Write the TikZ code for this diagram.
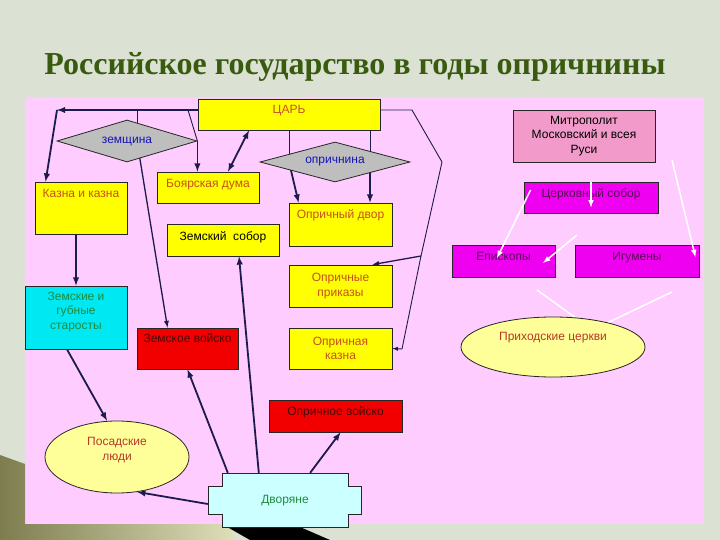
\documentclass[tikz,border=0pt]{standalone}
\usepackage{fontspec}
\setmainfont{Liberation Sans}
\newfontfamily\titlefont{Liberation Serif}
\usetikzlibrary{shapes,arrows,positioning,calc}

\definecolor{slidebg}{HTML}{DBE2D3}
\definecolor{panelpink}{HTML}{FFCCFF}
\definecolor{boxyellow}{HTML}{FFFF00}
\definecolor{boxred}{HTML}{F20000}
\definecolor{boxmag}{HTML}{F000F0}
\definecolor{metropink}{HTML}{F29AC9}
\definecolor{boxcyan}{HTML}{00E8F2}
\definecolor{paleblue}{HTML}{CCFFFF}
\definecolor{paleyellow}{HTML}{FFFF99}
\definecolor{rhombgrey}{HTML}{BEBEBE}
\definecolor{linenavy}{HTML}{1C1C4C}
\definecolor{txtorange}{HTML}{C8501A}
\definecolor{txtred}{HTML}{B83828}
\definecolor{txtpurple}{HTML}{5A0A5A}
\definecolor{txtgreen}{HTML}{1E8C3C}
\definecolor{txtblue}{HTML}{1414B4}
\definecolor{txtdark}{HTML}{4A0808}
\definecolor{titlegreen}{HTML}{3A5A10}

\newcommand{\boxfont}{\fontsize{12}{14.5}\selectfont}

\pgfdeclarelayer{back}
\pgfdeclarelayer{lines}
\pgfsetlayers{back,lines,main}

\tikzset{
  box/.style={draw=black!85, line width=0.8pt, inner sep=0pt, align=center, font=\boxfont},
  ybox/.style={box, fill=boxyellow, text=txtorange},
  rbox/.style={box, fill=boxred, text=txtdark},
  mbox/.style={box, fill=boxmag, text=txtpurple},
  rhomb/.style={box, diamond, aspect=3.4, fill=rhombgrey, text=txtblue},
  oval/.style={box, ellipse, fill=paleyellow},
  lbl/.style={inner sep=0pt, font=\boxfont, text height=9pt, text depth=2.5pt},
  lbltwo/.style={inner sep=0pt, font=\boxfont, align=center},
  conn/.style={draw=linenavy, line width=1.8pt},
  midconn/.style={draw=linenavy, line width=1.3pt},
  thinconn/.style={draw=linenavy, line width=0.9pt},
  wline/.style={draw=white, line width=1.5pt}
}

\begin{document}
\begin{tikzpicture}[x=1pt, y=-1pt, >=latex]
    \useasboundingbox (0,0) rectangle (720,540);

    % slide background
    \begin{pgfonlayer}{back}
        \fill[slidebg] (0,0) rectangle (720,540);
        \fill[panelpink] (25,97) rectangle (704,524);
        \shade[left color=black!70!olive!60, right color=black!25!olive!20]
            (0,455) -- (25,464) -- (25,524) -- (228,524) -- (236,540) -- (0,540) -- cycle;
        \fill[black] (222,524) -- (300,527) -- (330,540) -- (250,540) -- cycle;
    \end{pgfonlayer}

    % title
    \node[font=\titlefont\bfseries\fontsize{32}{38}\selectfont, text=titlegreen] (title) at (355,67)
        {Российское государство в годы опричнины};

    % top
    \node[ybox, minimum width=182pt, minimum height=31pt] (tsar) at (289,114.5) {};
    \node[lbl, text=txtorange, below=5.5pt of tsar.north] (tsart) {ЦАРЬ};
    \node[box, fill=metropink, text=black, minimum width=142pt, minimum height=52pt] (metro) at (584,136)
        {Митрополит\\Московский и всея\\Руси};
    \node[rhomb, minimum width=140pt, minimum height=42pt] (zemsh) at (127,141) {земщина};
    \node[rhomb, minimum width=150pt, minimum height=40pt] (opr) at (335,162) {опричнина};

    % zemshchina side
    \node[ybox, minimum width=92pt, minimum height=52pt] (kazna) at (81,208) {};
    \node[lbl, text=txtorange, below=6.5pt of kazna.north] (kaznat) {Казна и казна};
    \node[ybox, minimum width=102pt, minimum height=31pt] (boyar) at (208,187.5) {};
    \node[lbl, text=txtorange, below=6.5pt of boyar.north] (boyart) {Боярская дума};
    \node[ybox, minimum width=112pt, minimum height=32pt] (zsobor) at (223,240) {};
    \node[lbl, text=black, below=7.5pt of zsobor.north] (zsobort) {Земский~ собор};
    \node[box, fill=boxcyan, minimum width=102pt, minimum height=63pt] (starost) at (76,317.5) {};
    \node[lbltwo, text=txtgreen] (starostt) at ([yshift=5.5pt]starost.center) {Земские и\\губные\\старосты};
    \node[rbox, minimum width=101pt, minimum height=41pt] (zvoisko) at (187.5,348.5) {};
    \node[lbl, text=txtdark, below=5.5pt of zvoisko.north] (zvoiskot) {Земское войско};
    \node[oval, minimum width=144pt, minimum height=72pt] (posad) at (117,457) {};
    \node[lbltwo, text=txtred] (posadt) at ([yshift=7pt]posad.center) {Посадские\\люди};

    % oprichnina side
    \node[ybox, minimum width=103pt, minimum height=43pt] (odvor) at (340.5,224.5) {};
    \node[lbl, text=txtorange, below=6.5pt of odvor.north] (odvort) {Опричный двор};
    \node[ybox, minimum width=103pt, minimum height=42pt] (oprik) at (340.5,286) {Опричные\\приказы};
    \node[ybox, minimum width=103pt, minimum height=41pt] (okazna) at (340.5,348.5) {Опричная\\казна};
    \node[rbox, minimum width=133pt, minimum height=32pt] (ovoisko) at (335.5,416) {};
    \node[lbl, text=txtdark, below=6.5pt of ovoisko.north] (ovoiskot) {Опричное войско};

    % church
    \node[mbox, minimum width=134pt, minimum height=31pt] (csobor) at (591,197.5) {};
    \node[lbl, text=txtpurple, below=6.5pt of csobor.north] (csobort) {Церковный собор};
    \node[mbox, minimum width=103pt, minimum height=32pt] (episk) at (503.5,261) {};
    \node[lbl, text=txtpurple, below=6.5pt of episk.north] (episkt) {Епископы};
    \node[mbox, minimum width=124pt, minimum height=32pt] (igum) at (637,261) {};
    \node[lbl, text=txtpurple, below=6.5pt of igum.north] (igumt) {Игумены};
    \node[oval, minimum width=184pt, minimum height=60pt] (prihod) at (553,347) {};
    \node[lbltwo, text=txtred] (prihodt) at ([yshift=9pt]prihod.center) {Приходские церкви};

    % dvoryane
    \coordinate (dvorc) at (285,500);
    \draw[box, fill=paleblue] ($(dvorc)+(-63,-27)$) -- ++(126,0) -- ++(0,13) -- ++(13,0) -- ++(0,28)
        -- ++(-13,0) -- ++(0,13) -- ++(-126,0) -- ++(0,-13) -- ++(-14,0) -- ++(0,-28) -- ++(14,0) -- cycle;
    \node[lbl, minimum width=126pt, minimum height=54pt, text=txtgreen] (dvor) at (dvorc) {Дворяне};

    % connectors
    \begin{pgfonlayer}{lines}
        \coordinate (cl) at (57,110);
        \coordinate (zt) at (137,110);
        \coordinate (bt) at (188,110);
        \coordinate (tr) at ([xshift=81pt]tsar.south);
        \coordinate (k1) at (412,110);
        \coordinate (k2) at (442,162);
        \coordinate (k3) at (421,256);
        \coordinate (k4) at (402,349);

        \draw[conn,->] ([yshift=4.5pt]tsar.west) -- (cl);
        \draw[conn,->] (cl) -- ([xshift=11pt]kazna.north west);
        \draw[thinconn] (zt) -- (zt |- zemsh.center);
        \draw[thinconn] (bt) -- (zemsh.east);
        \draw[conn,->] (zemsh.east) -- (zemsh.east |- boyar.north);
        \draw[conn,<->] ([xshift=20pt]boyar.north) -- ([xshift=-40pt]tsar.south);

        \draw[thinconn] (tsar.south) -- (tsar.south |- opr.center);
        \draw[conn,->] (tsar.south |- opr.center) -- ([xshift=10pt]odvor.north west);
        \draw[thinconn] (tr) -- (tr |- opr.center);
        \draw[conn,->] (tr |- opr.center) -- (tr |- odvor.north);

        \draw[thinconn] ([yshift=4.5pt]tsar.east) -- (k1) -- (k2) -- (k3) -- (k4);
        \draw[thinconn,->] (k4) -- (okazna.east);
        \draw[midconn,->] (k3) -- ([xshift=-20pt]oprik.north east);

        \draw[midconn,->] (zt |- zemsh.center) -- ([xshift=-20pt]zvoisko.north);
        \draw[conn,->] ([xshift=-5pt]kazna.south) -- ([xshift=-5pt]kazna.south |- starost.north);
        \draw[conn,->] ([xshift=-9pt]starost.south) -- ([xshift=-10pt]posad.north);

        \draw[conn,->] ([xshift=-14pt,yshift=-4pt]dvor.west) -- (posad.-60);
        \draw[conn,->] ([xshift=6pt]dvor.north west) -- (zvoisko.south);
        \draw[conn,->] ([xshift=37pt]dvor.north west) -- ([xshift=16pt]zsobor.south);
        \draw[conn,->] ([xshift=-38pt]dvor.north east) -- ([xshift=5pt]ovoisko.south);

        \coordinate (w5) at (537,290);
        \coordinate (w6) at (672,292);
        \draw[wline] (w5) -- (prihod.53);
        \draw[wline] (w6) -- (prihod.24);
    \end{pgfonlayer}

    % white church arrows
    \coordinate (w1) at (672,160);
    \coordinate (w4) at (577,235);
    \draw[wline,->] (w1) -- ([xshift=-4pt,yshift=4pt]igum.east);
    \draw[wline,->] (csobor.north) -- ([yshift=-10pt]csobor.center);
    \draw[wline,->] ([xshift=7pt,yshift=7.5pt]csobor.west) -- ([xshift=-6.5pt,yshift=3pt]episk.center);
    \draw[wline,->] (w4) -- ([xshift=39.5pt,yshift=-2pt]episk.center);
\end{tikzpicture}
\end{document}
